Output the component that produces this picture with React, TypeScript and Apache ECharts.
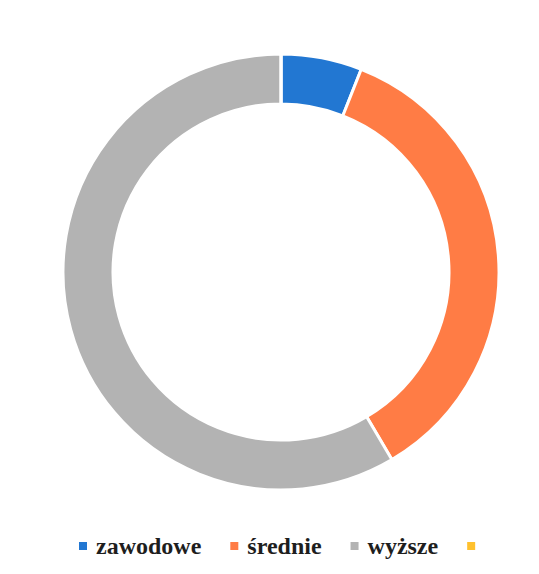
import React, { useEffect, useRef } from "react";
import * as echarts from "echarts";

const categories = ["zawodowe", "średnie", "wyższe", " "];
const values = [6, 35.5, 58.5, 0];
const colors = ["#2277d2", "#ff7c45", "#b3b3b3", "#ffc12e"];

const serifFont = "Liberation Serif";

export default function App() {
  const ref = useRef<HTMLDivElement>(null);
  useEffect(() => {
    document.body.style.margin = "0";
    const chart = echarts.init(ref.current!, null, { renderer: "svg" });
    chart.setOption({
      animation: false,
      backgroundColor: "#ffffff",
      color: colors,
      textStyle: { fontFamily: serifFont },
      legend: {
        data: categories,
        bottom: 16,
        left: 77,
        padding: 0,
        icon: "rect",
        itemWidth: 10,
        itemHeight: 10,
        itemGap: 27,
        textStyle: {
          fontFamily: serifFont,
          fontWeight: "bold",
          fontSize: 24,
          color: "#1e1e1e",
          padding: [0, 0, 0, 3],
        },
      },
      series: [
        {
          type: "pie",
          center: [281, 272],
          radius: [168, 218],
          startAngle: 90,
          clockwise: true,
          label: { show: false },
          labelLine: { show: false },
          emphasis: { disabled: true },
          itemStyle: { borderColor: "#ffffff", borderWidth: 3 },
          data: categories.map((c, i) => ({ name: c, value: values[i] })),
        },
      ],
    });
    return () => chart.dispose();
  }, []);
  return (
    <div
      ref={ref}
      style={{ position: "absolute", left: 0, top: 0, width: 539, height: 574 }}
    />
  );
}
